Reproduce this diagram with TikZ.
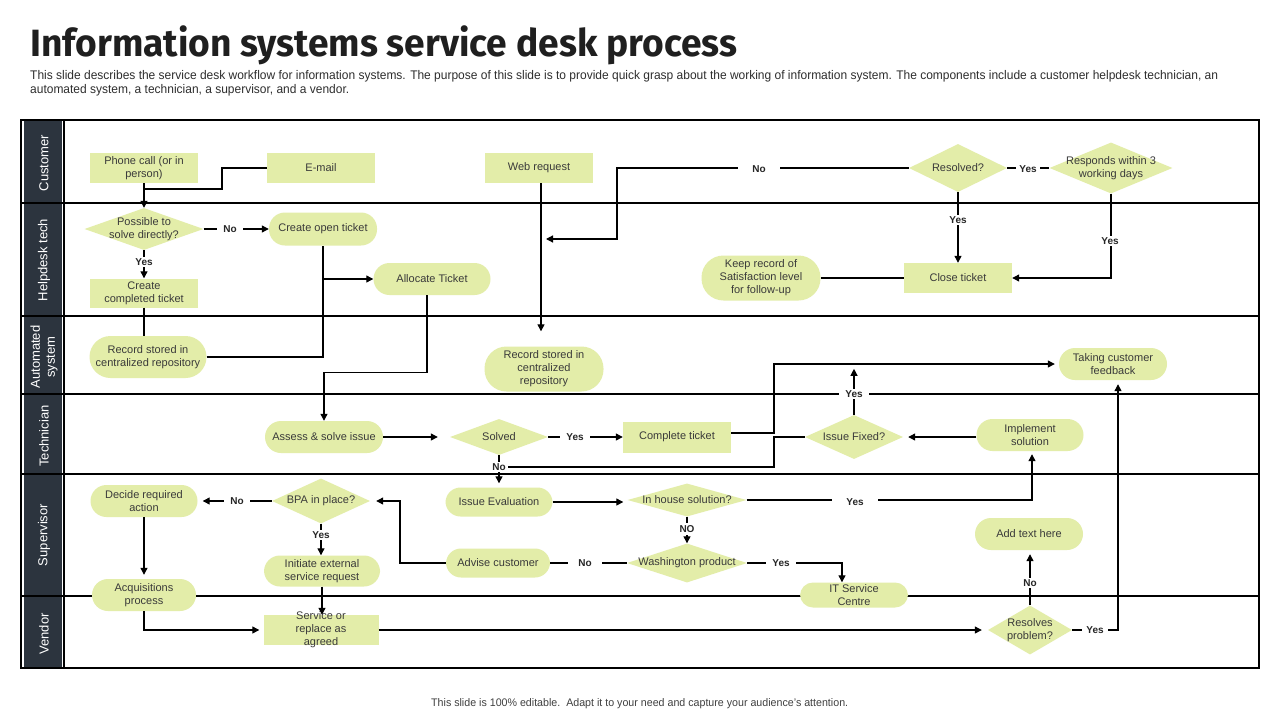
\documentclass[tikz,border=0pt]{standalone}
\usepackage{fontspec}
\usepackage{graphicx}
\setmainfont{Liberation Sans}
\newfontfamily\titlefont{Fira Sans}
\usetikzlibrary{shapes.geometric,arrows.meta,calc}
\definecolor{nodefill}{HTML}{E3EDA9}
\definecolor{lanedark}{HTML}{2C343E}
\definecolor{txt}{HTML}{3A3A3A}
\begin{document}
\begin{tikzpicture}[x=1pt,y=-1pt,
 sz/.style 2 args={minimum width=#1pt, minimum height=#2pt},
 base/.style={fill=nodefill, text=txt, font=\fontsize{11}{13}\selectfont, align=center, inner sep=1pt},
 box/.style={base, rectangle},
 stad/.style={base, rectangle, rounded corners=#1},
 dia/.style={fill=nodefill, diamond, inner sep=0pt},
 dlab/.style={text=txt, font=\fontsize{11}{13}\selectfont, align=center, inner sep=0pt},
 ln/.style={line width=1.2pt, black},
 arr/.style={ln, -{Triangle[length=7pt,width=7pt]}},
 lbl/.style={fill=white, font=\fontsize{10}{12}\selectfont\bfseries, text=black!85, inner xsep=6pt, inner ysep=2pt},
 lane/.style={text=white, font=\fontsize{13}{15}\selectfont, rotate=90, align=center},
 laneline/.style={line width=1.2pt, black},
]
\useasboundingbox (0,0) rectangle (1280,720);
\fill[white] (0,0) rectangle (1280,720);

% title and texts
\node[anchor=base west, inner sep=0pt, text=black!88] (title) at (30,56)
  {\resizebox{707pt}{\height}{\titlefont\fontsize{38}{40}\selectfont\bfseries Information systems service desk process}};
\node[anchor=base west, inner sep=0pt, text=black!82] (sub1) at (30,79)
  {\resizebox{1188pt}{\height}{\fontsize{12.5}{14}\selectfont This slide describes the service desk workflow for information systems. The purpose of this slide is to provide quick grasp about the working of information system. The components include a customer helpdesk technician, an}};
\node[anchor=base west, inner sep=0pt, text=black!82] (sub2) at (30,93)
  {\resizebox{319pt}{\height}{\fontsize{12.5}{14}\selectfont automated system, a technician, a supervisor, and a vendor.}};
\node[anchor=base west, inner sep=0pt, text=black!75] (foot) at (431,706)
  {\resizebox{417pt}{\height}{\fontsize{11}{13}\selectfont This slide is 100\% editable.\ \ Adapt it to your need and capture your audience's attention.}};

% swimlane frame
\fill[lanedark] (24,121) rectangle (62,667);
\draw[laneline] (21,120) rectangle (1259,668);
\draw[laneline] (64,120) -- (64,668);
\foreach \yy in {203,316,394,474,596} \draw[laneline] (21,\yy) -- (1259,\yy);

\node[lane] (lcust) at (44,163) {Customer};
\node[lane] (lhelp) at (44,260) {Helpdesk tech};
\node[lane] (lauto) at (44,357) {Automated\\system};
\node[lane] (ltech) at (44,436) {Technician};
\node[lane] (lsup) at (44,535) {Supervisor};
\node[lane] (lvend) at (44,634) {Vendor};

% customer lane
\node[box, sz={108}{30}] (phone) at (144,168) {Phone call (or in\\person)};
\node[box, sz={108}{30}] (email) at (321,168) {E-mail};
\node[box, sz={108}{30}] (web) at (539,168) {Web request};
\node[dia, sz={98}{48}, label={[dlab]center:Resolved?}] (resolved) at (958,168) {};
\node[dia, sz={123}{51}, label={[dlab]center:{Responds within 3\\working days}}] (responds) at (1111,168) {};

% helpdesk lane
\node[dia, sz={119}{42}, label={[dlab]center:{Possible to\\solve directly?}}] (poss) at (144,229) {};
\node[stad=16pt, sz={108}{33}] (cot) at (323,229) {Create open ticket};
\node[box, sz={108}{29}] (ccomp) at (144,293) {Create\\completed ticket};
\node[stad=16pt, sz={117}{32}] (alloc) at (432,279) {Allocate Ticket};
\node[stad=22pt, sz={119}{45}] (keep) at (761,278) {Keep record of\\Satisfaction level\\for follow-up};
\node[box, sz={108}{30}] (close) at (958,278) {Close ticket};

% automated system lane
\node[stad=21pt, sz={117}{42}] (rec1) at (148,357) {Record stored in\\centralized repository};
\node[stad=22pt, sz={119}{45}] (rec2) at (544,369) {Record stored in\\centralized\\repository};
\node[stad=16pt, sz={108}{32}] (feedback) at (1113,364) {Taking customer\\feedback};

% technician lane
\node[stad=16pt, sz={118}{32}] (assess) at (324,437) {Assess \& solve issue};
\node[dia, sz={98}{36}, label={[dlab]center:Solved}] (solved) at (499,437) {};
\node[box, sz={108}{31}] (complete) at (677,437) {Complete ticket};
\node[dia, sz={98}{44}, label={[dlab]center:Issue Fixed?}] (fixed) at (854,437) {};
\node[stad=16pt, sz={107}{32}] (impl) at (1030,435) {Implement\\solution};

% supervisor lane
\node[stad=16pt, sz={107}{32}] (decide) at (144,501) {Decide required\\action};
\node[dia, sz={98}{45}, label={[dlab]center:BPA in place?}] (bpa) at (321,501) {};
\node[stad=15pt, sz={107}{29}] (eval) at (499,502) {Issue Evaluation};
\node[dia, sz={119}{33}, label={[dlab]center:In house solution?}] (inhouse) at (687,500) {};
\node[dia, sz={120}{39}, label={[dlab]center:Washington product}] (wash) at (687,563) {};
\node[stad=15pt, sz={104}{29}] (advise) at (498,563) {Advise customer};
\node[stad=16pt, sz={116}{31}] (init) at (322,571) {Initiate external\\service request};
\node[stad=16pt, sz={108}{32}] (addtext) at (1029,534) {Add text here};
\node[stad=16pt, sz={104}{32}] (acq) at (144,595) {Acquisitions\\process};
\node[stad=13pt, sz={108}{25}] (itc) at (854,595) {IT Service\\Centre};

% vendor lane
\node[box, sz={115}{30}, label={[dlab]center:{Service or\\replace as\\agreed}}] (service) at (321,630) {};
\node[dia, sz={84}{49}, label={[dlab]center:{Resolves\\problem?}}] (resolves) at (1030,630) {};

% helper coordinates
\coordinate (pj) at (144,189);
\coordinate (nohit) at (546,239);
\coordinate (noj) at (505,467);

% connectors
\draw[arr] (phone.south) -- (poss.north);
\draw[ln] (email.west) -- (222,168) |- (pj);
\draw[arr] (poss.east) -- (poss.east -| cot.west);
\draw[arr] (poss.south) -- (ccomp.north);
\draw[ln] (ccomp.south) -- (ccomp.south |- rec1.north);
\draw[ln] (rec1.east) -| (cot.south);
\draw[arr] (cot.south |- alloc.west) -- (alloc.west);
\draw[arr] ([xshift=-5pt]alloc.south) -- ++(0,77) -| (assess.north);
\draw[arr, shorten >=15pt] ([xshift=2pt]web.south) -- ([xshift=2pt]web.south |- rec2.north);
\draw[arr] (resolved.west) -- (617,168) |- (nohit);
\draw[ln] (resolved.east) -- (responds.west);
\draw[arr] (resolved.south) -- (close.north);
\draw[arr] (responds.south) |- (close.east);
\draw[ln] (close.west) -- (keep.east);

\draw[arr, shorten >=12pt] (assess.east) -- (assess.east -| solved.west);
\draw[arr] (solved.east) -- (complete.west);
\draw[arr, shorten >=4pt] (solved.south) -- (eval.north);
\draw[ln] (fixed.west) -- (774,437) |- (noj);
\draw[arr] ([yshift=4pt]complete.east) -- (774,433) |- ([xshift=-4pt]feedback.west);
\draw[arr] (fixed.north) -- ++(0,-46);
\draw[arr, shorten >=5pt] (fixed.east -| impl.west) -- (fixed.east);

\draw[arr, shorten >=3pt] (inhouse.east) -| ([xshift=2pt]impl.south);
\draw[arr] (inhouse.south) -- (wash.north);
\draw[arr, shorten >=4pt] (eval.east) -- (eval.east -| inhouse.west);
\draw[ln] (wash.west) -- (advise.east);
\draw[arr] (wash.east) -| ([xshift=-12pt]itc.north);
\draw[arr, shorten >=6pt] (advise.west) -- (400,563) |- (bpa.east);
\draw[arr, shorten >=5pt] (bpa.west) -- (decide.east);
\draw[arr] (bpa.south) -- (bpa.south |- init.north);
\draw[arr, shorten >=4pt] (decide.south) -- (acq.north);
\draw[arr] (init.south) -- (init.south |- service.north);
\draw[arr, shorten >=4pt] (acq.south) |- (service.west);
\draw[arr, shorten >=6pt] (service.east) -- (resolves.west);
\draw[arr, shorten >=4pt] (resolves.east) -| ([xshift=5pt]feedback.south);
\draw[arr, shorten >=4pt] (resolves.north) -- (resolves.north |- addtext.south);

% connector labels
\node[lbl] (l1) at (230,229) {No};
\node[lbl] (l2) at (144,262) {Yes};
\node[lbl, inner xsep=14pt] (l3) at (759,169) {No};
\node[lbl, inner xsep=3pt] (l4) at (1028,169) {Yes};
\node[lbl] (l5) at (958,220) {Yes};
\node[lbl] (l6) at (1110,241) {Yes};
\node[lbl] (l7) at (575,437) {Yes};
\node[lbl, inner xsep=2pt] (l8) at (499,467) {No};
\node[lbl] (l9) at (854,394) {Yes};
\node[lbl, inner xsep=14pt] (l10) at (855,502) {Yes};
\node[lbl, inner xsep=2pt] (l11) at (687,529) {NO};
\node[lbl, inner xsep=10pt] (l12) at (585,563) {No};
\node[lbl] (l13) at (781,563) {Yes};
\node[lbl] (l14) at (237,501) {No};
\node[lbl, inner xsep=2pt] (l15) at (321,535) {Yes};
\node[lbl, inner xsep=4pt] (l16) at (1095,630) {Yes};
\node[lbl, inner xsep=2pt] (l17) at (1030,583) {No};
\end{tikzpicture}
\end{document}
